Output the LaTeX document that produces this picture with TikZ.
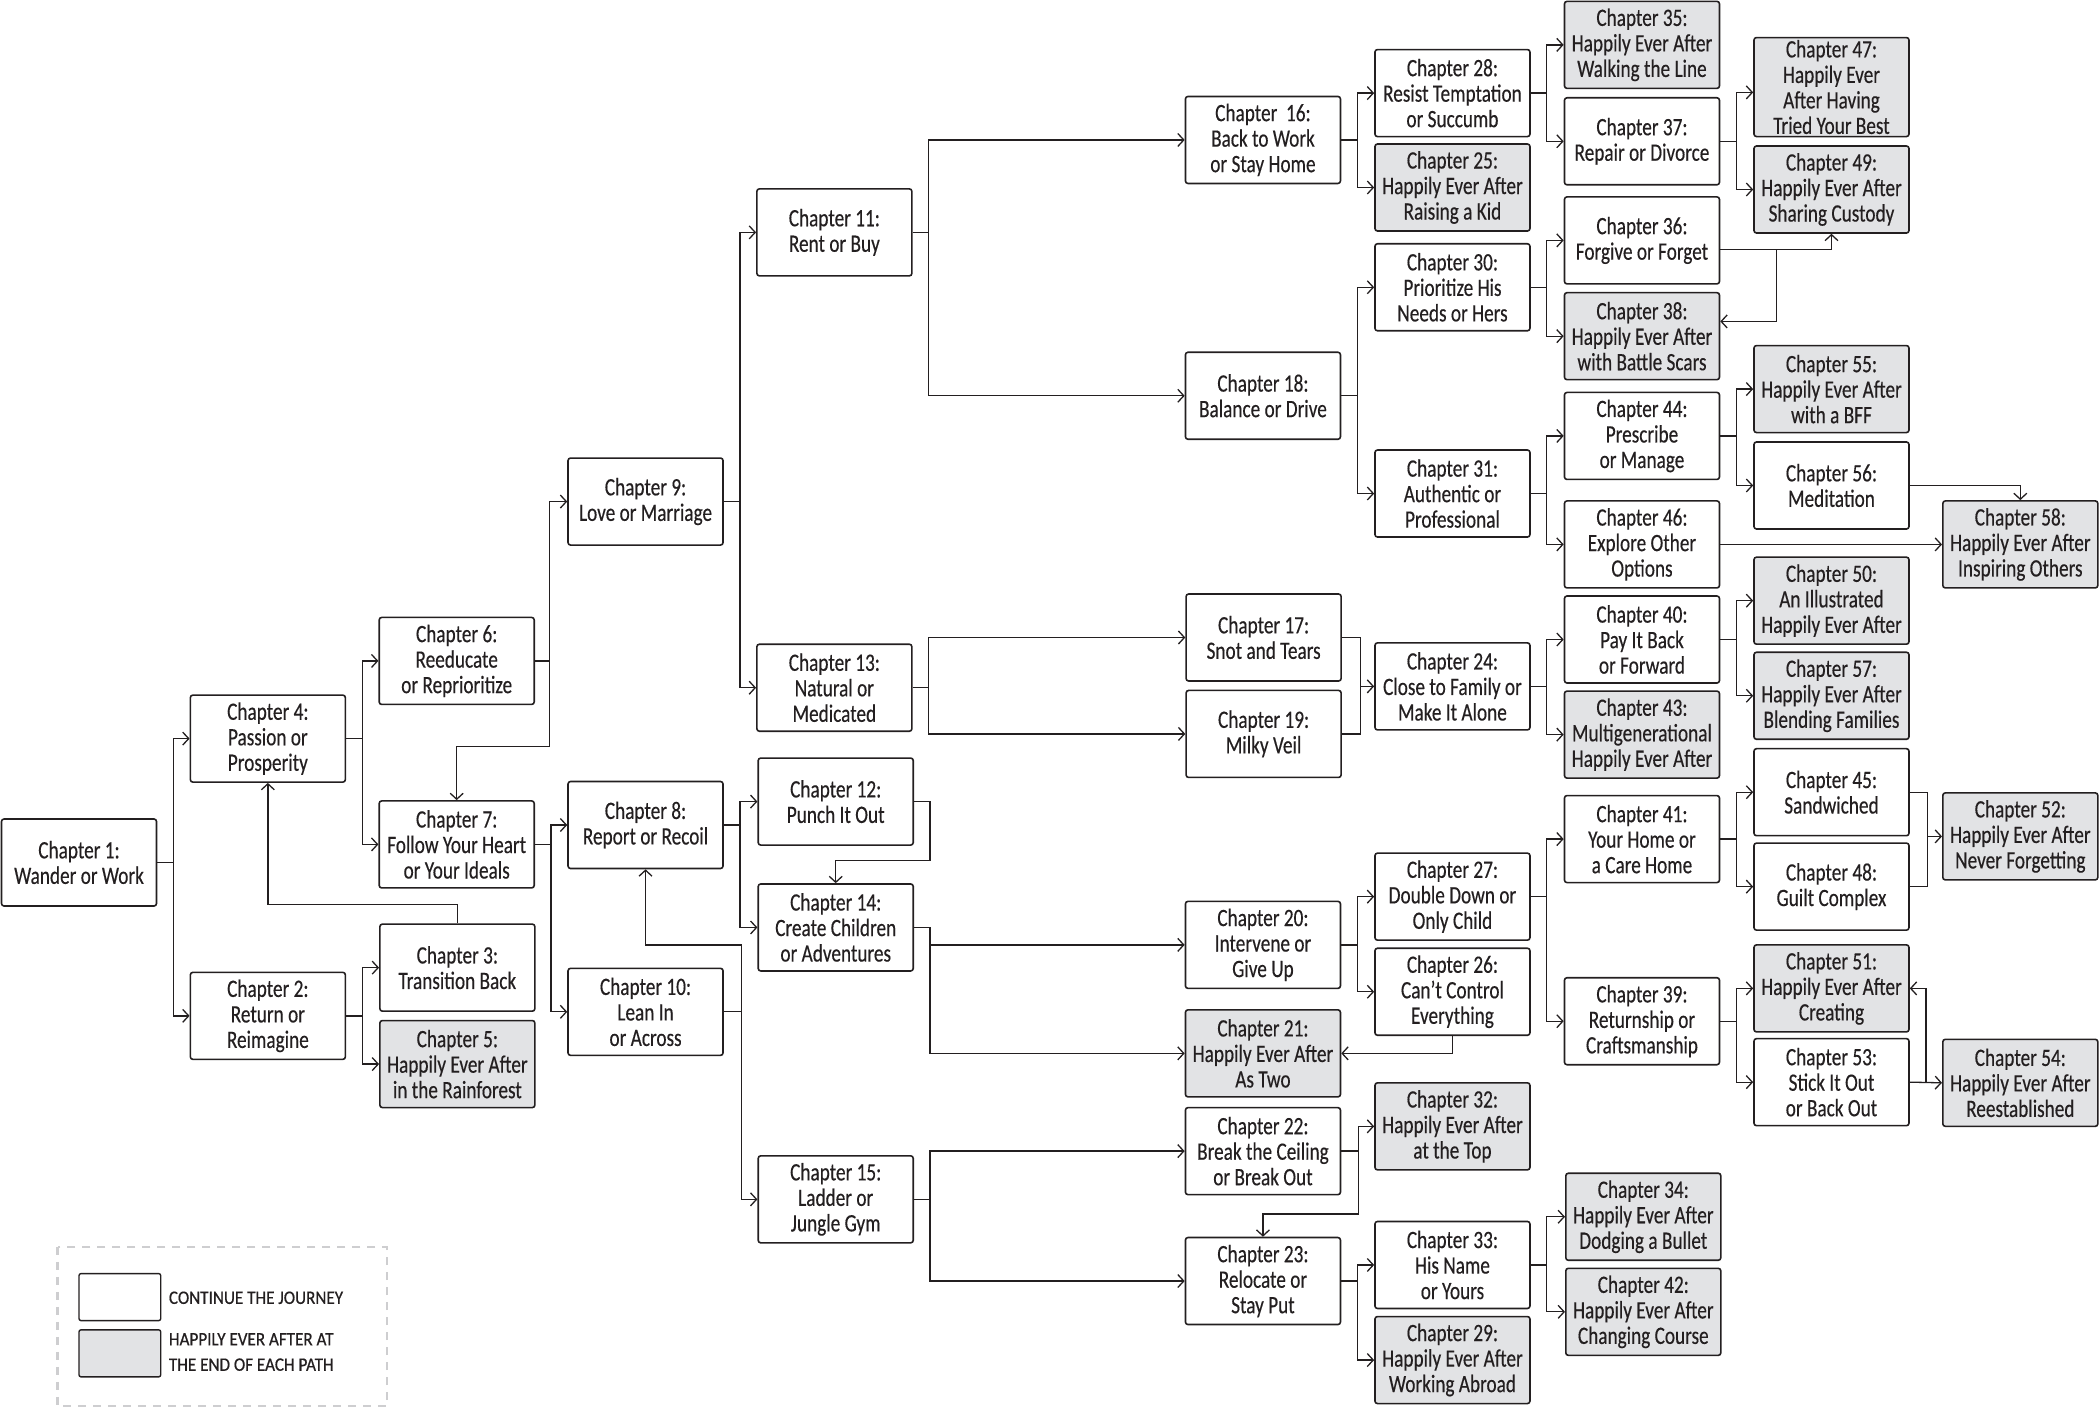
\documentclass[tikz,border=0pt]{standalone}
\usepackage{fontspec}
\setmainfont[FakeStretch=0.77,FakeBold=0.35]{Carlito}
\newfontfamily\legfont[FakeStretch=0.9,FakeBold=0.6]{Carlito}
\usetikzlibrary{arrows.meta,calc}
\definecolor{hea}{RGB}{226,227,229}
\definecolor{lg}{RGB}{206,206,208}
\definecolor{ink}{RGB}{35,31,32}
\newcommand\myfork[3]{%
  \draw[arr] (#1.east) -- ++(12,0) |- (#2.west);
  \draw[arr] (#1.east) -- ++(12,0) |- (#3.west);}
\begin{document}
\begin{tikzpicture}[x=1.33929pt,y=-1.33929pt,
  box/.style={draw=ink,line width=1.6pt,rounded corners=2.5pt,minimum width=155pt,minimum height=87pt,
    align=center,inner sep=0pt,font=\fontsize{25}{25.5}\selectfont,text=ink},
  hbox/.style={box,fill=hea},
  arr/.style={draw=ink,line width=1.3pt,-{Straight Barb[length=6pt,width=13pt,line width=1.3pt]}},
  ln/.style={draw=ink,line width=1.3pt},
  lbox/.style={draw=ink,line width=1.4pt,rounded corners=2pt,minimum width=81.7pt,minimum height=47pt,inner sep=0pt},
  ltext/.style={anchor=west,align=left,inner sep=0pt,text=ink,font=\legfont\fontsize{19}{25.4}\selectfont}]
\useasboundingbox (0,0) rectangle (1568,1051);
% column 1-5
\node[box] (c1) at (59,644) {Chapter 1:\\Wander or Work};
\node[box] (c4) at (200,551.5) {Chapter 4:\\Passion or\\Prosperity};
\node[box] (c2) at (200,758.5) {Chapter 2:\\Return or\\Reimagine};
\node[box] (c6) at (341,493.5) {Chapter 6:\\Reeducate\\or Reprioritize};
\node[box] (c7) at (341,630.5) {Chapter 7:\\Follow Your Heart\\or Your Ideals};
\node[box] (c3) at (341.5,722.5) {Chapter 3:\\Transition Back};
\node[hbox] (c5) at (341.5,794.5) {Chapter 5:\\Happily Ever After\\in the Rainforest};
\node[box] (c9) at (482,374.5) {Chapter 9:\\Love or Marriage};
\node[box] (c8) at (482,616) {Chapter 8:\\Report or Recoil};
\node[box] (c10) at (482,755.5) {Chapter 10:\\Lean In\\or Across};
\node[box] (c11) at (623,173.5) {Chapter 11:\\Rent or Buy};
\node[box] (c13) at (623,513.5) {Chapter 13:\\Natural or\\Medicated};
\node[box] (c12) at (624,598.5) {Chapter 12:\\Punch It Out};
\node[box] (c14) at (624,692.5) {Chapter 14:\\Create Children\\or Adventures};
\node[box] (c15) at (624,895.5) {Chapter 15:\\Ladder or\\Jungle Gym};
% column 6
\node[box] (c16) at (943,104.5) {Chapter\ \ 16:\\Back to Work\\or Stay Home};
\node[box] (c18) at (943,295.5) {Chapter 18:\\Balance or Drive};
\node[box] (c17) at (943.5,476) {Chapter 17:\\Snot and Tears};
\node[box] (c19) at (943.5,548) {Chapter 19:\\Milky Veil};
\node[box] (c20) at (943,705.5) {Chapter 20:\\Intervene or\\Give Up};
\node[hbox] (c21) at (943,786.5) {Chapter 21:\\Happily Ever After\\As Two};
\node[box] (c22) at (943,859.5) {Chapter 22:\\Break the Ceiling\\or Break Out};
\node[box] (c23) at (943,956.5) {Chapter 23:\\Relocate or\\Stay Put};
% column 7
\node[box] (c28) at (1084.5,69.5) {Chapter 28:\\Resist Temptation\\or Succumb};
\node[hbox] (c25) at (1084.5,140) {Chapter 25:\\Happily Ever After\\Raising a Kid};
\node[box] (c30) at (1084.5,214.5) {Chapter 30:\\Prioritize His\\Needs or Hers};
\node[box] (c31) at (1084.5,368.5) {Chapter 31:\\Authentic or\\Professional};
\node[box] (c24) at (1084.5,512.5) {Chapter 24:\\Close to Family or\\Make It Alone};
\node[box] (c27) at (1084.5,669.5) {Chapter 27:\\Double Down or\\Only Child};
\node[box] (c26) at (1084.5,740.5) {Chapter 26:\\Can’t Control\\Everything};
\node[hbox] (c32) at (1084.5,841) {Chapter 32:\\Happily Ever After\\at the Top};
\node[box] (c33) at (1084.5,944.5) {Chapter 33:\\His Name\\or Yours};
\node[hbox] (c29) at (1084.5,1015.5) {Chapter 29:\\Happily Ever After\\Working Abroad};
% column 8
\node[hbox] (c35) at (1226,33.5) {Chapter 35:\\Happily Ever After\\Walking the Line};
\node[box] (c37) at (1226,105.5) {Chapter 37:\\Repair or Divorce};
\node[box] (c36) at (1226,179.5) {Chapter 36:\\Forgive or Forget};
\node[hbox] (c38) at (1226,251) {Chapter 38:\\Happily Ever After\\with Battle Scars};
\node[box] (c44) at (1226,325.5) {Chapter 44:\\Prescribe\\or Manage};
\node[box] (c46) at (1226,406.5) {Chapter 46:\\Explore Other\\Options};
\node[box] (c40) at (1226,477.5) {Chapter 40:\\Pay It Back\\or Forward};
\node[hbox] (c43) at (1226,548.5) {Chapter 43:\\Multigenerational\\Happily Ever After};
\node[box] (c41) at (1226,626.5) {Chapter 41:\\Your Home or\\a Care Home};
\node[box] (c39) at (1226,762.5) {Chapter 39:\\Returnship or\\Craftsmanship};
\node[hbox] (c34) at (1227,908.5) {Chapter 34:\\Happily Ever After\\Dodging a Bullet};
\node[hbox] (c42) at (1227,979.5) {Chapter 42:\\Happily Ever After\\Changing Course};
% column 9
\node[hbox,minimum height=99pt] (c47) at (1367.5,65) {Chapter 47:\\Happily Ever\\After Having\\Tried Your Best};
\node[hbox] (c49) at (1367.5,141.5) {Chapter 49:\\Happily Ever After\\Sharing Custody};
\node[hbox] (c55) at (1367.5,290.5) {Chapter 55:\\Happily Ever After\\with a BFF};
\node[box] (c56) at (1367.5,362.5) {Chapter 56:\\Meditation};
\node[hbox] (c50) at (1367.5,448.5) {Chapter 50:\\An Illustrated\\Happily Ever After};
\node[hbox] (c57) at (1367.5,519.5) {Chapter 57:\\Happily Ever After\\Blending Families};
\node[box] (c45) at (1367.5,591.5) {Chapter 45:\\Sandwiched};
\node[box] (c48) at (1367.5,662) {Chapter 48:\\Guilt Complex};
\node[hbox] (c51) at (1367.5,738) {Chapter 51:\\Happily Ever After\\Creating};
\node[box] (c53) at (1367.5,808) {Chapter 53:\\Stick It Out\\or Back Out};
% column 10
\node[hbox] (c58) at (1508.5,406.5) {Chapter 58:\\Happily Ever After\\Inspiring Others};
\node[hbox] (c52) at (1508.5,624.5) {Chapter 52:\\Happily Ever After\\Never Forgetting};
\node[hbox] (c54) at (1508.5,808.5) {Chapter 54:\\Happily Ever After\\Reestablished};
% connectors
\myfork{c1}{c4}{c2}
\myfork{c4}{c6}{c7}
\myfork{c2}{c3}{c5}
\draw[arr] (c3.north) -- ++(0,-14) -| (c4.south);
\draw[arr] (c6.east) -- ++(11,0) |- (c9.west);
\draw[arr] (c6.east) -- ++(11,0) -- ++(0,64) -| (c7.north);
\myfork{c7}{c8}{c10}
\myfork{c9}{c11}{c13}
\myfork{c8}{c12}{c14}
\draw[arr] (c10.east) -- ++(13,0) |- (c15.west);
\draw[arr] (c10.east) -- ++(13,0) -- ++(0,-50) -| (c8.south);
\draw[arr] (c12.east) -- ++(12,0) -- ++(0,44) -| (c14.north);
\myfork{c11}{c16}{c18}
\myfork{c13}{c17}{c19}
\myfork{c14}{c20}{c21}
\myfork{c15}{c22}{c23}
\myfork{c16}{c28}{c25}
\myfork{c18}{c30}{c31}
\draw[ln] (c17.east) -- ++(14,0) coordinate (j17) |- (c19.east);
\draw[arr] (j17 |- c24.west) -- (c24.west);
\myfork{c20}{c27}{c26}
\draw[arr] (c26.south) |- (c21.east);
\draw[arr] (c22.east) -- ++(13,0) |- (c32.west);
\draw[arr] (c22.east) -- ++(13,0) -- ++(0,47) -| (c23.north);
\myfork{c23}{c33}{c29}
\myfork{c28}{c35}{c37}
\myfork{c30}{c36}{c38}
\myfork{c31}{c44}{c46}
\myfork{c24}{c40}{c43}
\myfork{c27}{c41}{c39}
\myfork{c33}{c34}{c42}
\draw[arr] (c37.east) -- ++(12,0) |- ($(c47.west)+(0,4)$);
\draw[arr] (c37.east) -- ++(12,0) |- (c49.west);
\draw[arr] ($(c36.east)+(0,7)$) -| (c49.south);
\coordinate (j36) at ($(c36.east)+(42,7)$);
\draw[arr] (j36) |- ($(c38.east)+(0,-11)$);
\myfork{c44}{c55}{c56}
\draw[arr] (c56.east) -| (c58.north);
\draw[arr] (c46.east) -- (c58.west);
\myfork{c40}{c50}{c57}
\myfork{c41}{c45}{c48}
\draw[ln] (c45.east) -- ++(13,0) coordinate (j45) |- (c48.east);
\draw[arr] (j45 |- c52.west) -- (c52.west);
\myfork{c39}{c51}{c53}
\draw[arr] (c53.east) -- (c54.west);
\draw[arr] (c53.east) -- ++(12,0) |- (c51.east);
% legend
\draw[lg,line width=2.4pt,dash pattern=on 8pt off 7pt] (43,931) rectangle (289,1050);
\node[lbox] (lw) at (89.5,968.5) {};
\node[lbox,fill=hea] (lh) at (89.5,1010.5) {};
\node[ltext] (lt1) at (126,969) {CONTINUE THE JOURNEY};
\node[ltext] (lt2) at (126,1009.5) {HAPPILY EVER AFTER AT\\THE END OF EACH PATH};
\end{tikzpicture}
\end{document}
